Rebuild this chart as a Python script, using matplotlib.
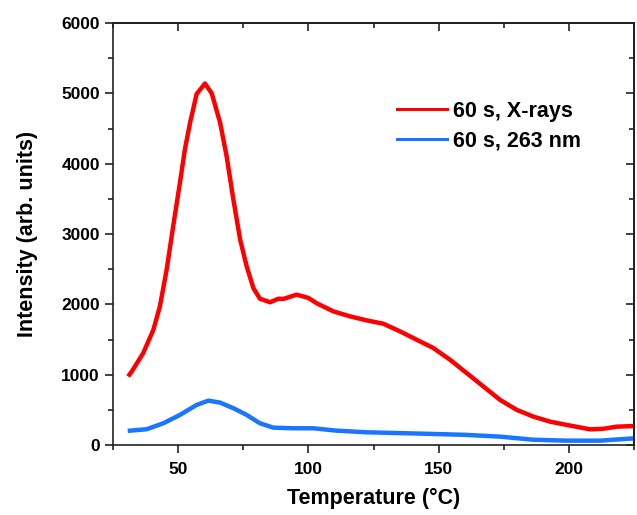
import matplotlib
matplotlib.use("Agg")
import matplotlib.pyplot as plt
from matplotlib.ticker import MultipleLocator

plt.rcParams['font.family'] = ['Liberation Sans', 'DejaVu Sans']
plt.rcParams['font.weight'] = 'bold'

red_T = [31.3, 32.2, 36.6, 40.5, 43.0, 45.6, 48.1, 50.7, 52.6, 54.6, 57.1, 60.3, 62.9,
         66.1, 68.6, 71.2, 73.8, 76.3, 78.9, 81.4, 85.3, 88.5, 90.4, 95.5, 100.0, 103.2,
         109.6, 116.0, 122.4, 128.8, 135.2, 141.6, 148.0, 154.4, 160.8, 167.2, 173.6,
         180.0, 186.4, 192.8, 199.2, 208.1, 213.0, 218.4, 225.0]
red_I = [1000, 1045, 1307, 1639, 1971, 2494, 3111, 3730, 4204, 4585, 4990, 5140, 5000,
         4585, 4109, 3492, 2922, 2541, 2230, 2080, 2030, 2080, 2077, 2138, 2091, 2015,
         1900, 1829, 1772, 1724, 1615, 1496, 1378, 1211, 1022, 831, 641,
         499, 403, 332, 285, 223, 230, 261, 270]

blue_T = [31.5, 37.9, 44.3, 50.7, 57.1, 61.6, 66.1, 71.2, 76.3, 81.4, 86.5, 94.2, 101.9,
          110.9, 122.4, 148.0, 160.0, 173.6, 186.4, 199.2, 212.0, 225.0]
blue_I = [204, 224, 309, 428, 570, 631, 603, 523, 428, 309, 247, 238, 238,
          204, 181, 157, 145, 119, 75, 62, 62, 95]

labels = ["60 s, X-rays", "60 s, 263 nm"]
colors = ["#ff0000", "#1a75ff"]

fig = plt.figure(figsize=(6.37, 5.15), dpi=100)
ax = fig.add_axes([0.1774, 0.1359, 0.8179, 0.8194])

ax.plot(red_T, red_I, color=colors[0], lw=3.2, label=labels[0], solid_joinstyle='round')
ax.plot(blue_T, blue_I, color=colors[1], lw=3.2, label=labels[1], solid_joinstyle='round')

ax.set_xlim(25, 225)
ax.set_ylim(0, 6000)
ax.xaxis.set_major_locator(MultipleLocator(50))
ax.xaxis.set_minor_locator(MultipleLocator(25))
ax.yaxis.set_major_locator(MultipleLocator(1000))
ax.yaxis.set_minor_locator(MultipleLocator(500))

for s in ax.spines.values():
    s.set_linewidth(1.2)
    s.set_color('#222222')

ax.tick_params(which='both', width=1.2, color='#222222', labelsize=12.5, direction='out')
ax.tick_params(which='major', length=6)
ax.tick_params(which='minor', length=3.5)
ax.tick_params(axis='x', which='both', pad=6)
for lab in ax.get_xticklabels() + ax.get_yticklabels():
    lab.set_fontweight('bold')

# mirrored inward ticks on top/right
axt = ax.secondary_xaxis('top')
axt.xaxis.set_major_locator(MultipleLocator(50))
axt.xaxis.set_minor_locator(MultipleLocator(25))
axt.tick_params(which='both', direction='in', width=1.2, color='#222222', labeltop=False)
axt.tick_params(which='major', length=6)
axt.tick_params(which='minor', length=3.5)
axt.spines['top'].set_linewidth(1.2)
axr = ax.secondary_yaxis('right')
axr.yaxis.set_major_locator(MultipleLocator(1000))
axr.yaxis.set_minor_locator(MultipleLocator(500))
axr.tick_params(which='both', direction='in', width=1.2, color='#222222', labelright=False)
axr.tick_params(which='major', length=6)
axr.tick_params(which='minor', length=3.5)
axr.spines['right'].set_linewidth(1.2)

ax.set_xlabel("Temperature (°C)", fontsize=15.5, fontweight='bold', labelpad=8)
ax.set_ylabel("Intensity (arb. units)", fontsize=15.5, fontweight='bold', labelpad=17)

leg = ax.legend(loc='upper left', bbox_to_anchor=(0.508, 0.862), frameon=False,
                fontsize=15.5, handlelength=2.33, handletextpad=0.28, labelspacing=0.4)
for t in leg.get_texts():
    t.set_fontweight('bold')
for l in leg.get_lines():
    l.set_linewidth(2.2)

fig.savefig("out.png", dpi=100)
